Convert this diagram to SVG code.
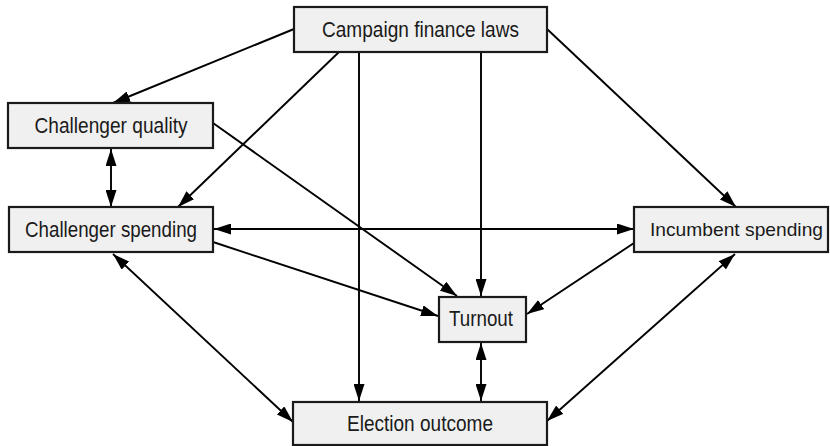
<svg xmlns="http://www.w3.org/2000/svg" width="830" height="446" viewBox="0 0 830 446">
<defs>
<marker id="ah" viewBox="0 0 17 11" refX="17" refY="5.5" markerWidth="17" markerHeight="11" markerUnits="userSpaceOnUse" orient="auto-start-reverse">
<path d="M0,0 L17,5.5 L0,11 z" fill="#000"/>
</marker>
<style>
.box{fill:#f0f0f0;stroke:#1a1a1a;stroke-width:2.2}
.lbl{font-family:"Liberation Sans Narrow","Liberation Sans",Arial,sans-serif;font-size:21.5px;fill:#1a1a1a;text-anchor:middle}
.sm{font-size:19px}
.c{stroke:#000;stroke-width:1.9;fill:none}
.e{marker-end:url(#ah)}
.b{marker-start:url(#ah);marker-end:url(#ah)}
</style>
</defs>
<rect width="830" height="446" fill="#fff"/>
<g id="connectors">
<line class="c e" x1="294" y1="29" x2="113" y2="103"/>
<line class="c e" x1="339" y1="52" x2="178" y2="207"/>
<line class="c e" x1="359" y1="52" x2="359" y2="401"/>
<line class="c e" x1="481" y1="52" x2="481" y2="296"/>
<line class="c e" x1="547" y1="29" x2="736" y2="207"/>
<line class="c e" x1="213" y1="123" x2="457" y2="296"/>
<line class="c b" x1="111" y1="149" x2="111" y2="207"/>
<line class="c b" x1="214" y1="229" x2="634" y2="229"/>
<line class="c e" x1="213" y1="242" x2="438" y2="316"/>
<line class="c e" x1="634" y1="243" x2="527" y2="314"/>
<line class="c b" x1="113" y1="254" x2="293" y2="422"/>
<line class="c b" x1="735" y1="254" x2="547" y2="421"/>
<line class="c b" x1="481" y1="343" x2="481" y2="401"/>
</g>
<g id="campaign-finance-laws">
<rect class="box" x="294" y="7" width="253" height="45"/>
<text class="lbl" x="420.5" y="37" textLength="197" lengthAdjust="spacingAndGlyphs">Campaign finance laws</text>
</g>
<g id="challenger-quality">
<rect class="box" x="8" y="103" width="205" height="45"/>
<text class="lbl" x="111" y="133" textLength="153" lengthAdjust="spacingAndGlyphs">Challenger quality</text>
</g>
<g id="challenger-spending">
<rect class="box" x="9" y="207" width="204" height="45"/>
<text class="lbl" x="111" y="237" textLength="172" lengthAdjust="spacingAndGlyphs">Challenger spending</text>
</g>
<g id="incumbent-spending">
<rect class="box" x="634" y="207" width="194" height="45"/>
<text class="lbl sm" x="736.5" y="236" textLength="173" lengthAdjust="spacingAndGlyphs">Incumbent spending</text>
</g>
<g id="turnout">
<rect class="box" x="439" y="297" width="87" height="45"/>
<text class="lbl" x="481" y="326" textLength="64" lengthAdjust="spacingAndGlyphs">Turnout</text>
</g>
<g id="election-outcome">
<rect class="box" x="293" y="402" width="254" height="43"/>
<text class="lbl" x="420" y="431" textLength="146" lengthAdjust="spacingAndGlyphs">Election outcome</text>
</g>
</svg>
